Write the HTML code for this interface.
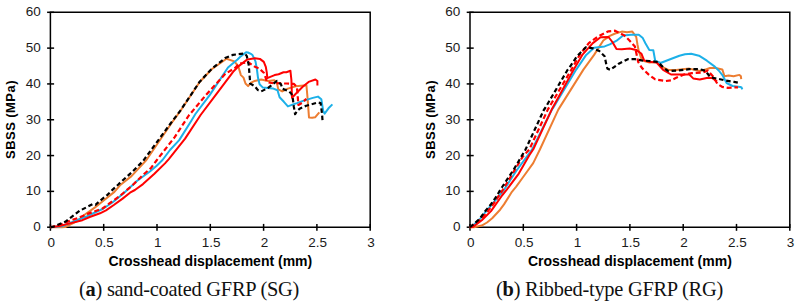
<!DOCTYPE html>
<html><head><meta charset="utf-8"><style>
html,body{margin:0;padding:0;background:#fff;}
svg{display:block}
.tk{font-family:"Liberation Sans",sans-serif;font-size:13.5px;fill:#1a1a1a}
.ax{font-family:"Liberation Sans",sans-serif;font-size:14px;font-weight:bold;fill:#000}
.ax2{font-family:"Liberation Sans",sans-serif;font-size:13px;font-weight:bold;fill:#000;letter-spacing:0.45px}
.cap{font-family:"Liberation Serif",serif;font-size:20.4px;fill:#111;letter-spacing:-0.25px}
</style></head><body>
<svg width="797" height="305" viewBox="0 0 797 305">
<path d="M50.40 12.30H370.20V227.20H50.40Z" fill="none" stroke="#000" stroke-width="1.5"/>
<path d="M47.10 227.20H54.10" stroke="#000" stroke-width="1.5"/>
<text x="40.80" y="231.20" text-anchor="end" class="tk">0</text>
<path d="M47.10 191.38H54.10" stroke="#000" stroke-width="1.5"/>
<text x="40.80" y="195.38" text-anchor="end" class="tk">10</text>
<path d="M47.10 155.57H54.10" stroke="#000" stroke-width="1.5"/>
<text x="40.80" y="159.57" text-anchor="end" class="tk">20</text>
<path d="M47.10 119.75H54.10" stroke="#000" stroke-width="1.5"/>
<text x="40.80" y="123.75" text-anchor="end" class="tk">30</text>
<path d="M47.10 83.93H54.10" stroke="#000" stroke-width="1.5"/>
<text x="40.80" y="87.93" text-anchor="end" class="tk">40</text>
<path d="M47.10 48.12H54.10" stroke="#000" stroke-width="1.5"/>
<text x="40.80" y="52.12" text-anchor="end" class="tk">50</text>
<path d="M47.10 12.30H54.10" stroke="#000" stroke-width="1.5"/>
<text x="40.80" y="16.30" text-anchor="end" class="tk">60</text>
<path d="M50.40 223.90V230.80" stroke="#000" stroke-width="1.5"/>
<text x="51.20" y="246.50" text-anchor="middle" class="tk">0</text>
<path d="M103.70 223.90V230.80" stroke="#000" stroke-width="1.5"/>
<text x="104.50" y="246.50" text-anchor="middle" class="tk">0.5</text>
<path d="M157.00 223.90V230.80" stroke="#000" stroke-width="1.5"/>
<text x="157.80" y="246.50" text-anchor="middle" class="tk">1</text>
<path d="M210.30 223.90V230.80" stroke="#000" stroke-width="1.5"/>
<text x="211.10" y="246.50" text-anchor="middle" class="tk">1.5</text>
<path d="M263.60 223.90V230.80" stroke="#000" stroke-width="1.5"/>
<text x="264.40" y="246.50" text-anchor="middle" class="tk">2</text>
<path d="M316.90 223.90V230.80" stroke="#000" stroke-width="1.5"/>
<text x="317.70" y="246.50" text-anchor="middle" class="tk">2.5</text>
<path d="M370.20 223.90V230.80" stroke="#000" stroke-width="1.5"/>
<text x="371.00" y="246.50" text-anchor="middle" class="tk">3</text>
<text x="210.30" y="266" text-anchor="middle" class="ax">Crosshead displacement (mm)</text>
<text transform="translate(14.90 119.5) rotate(-90)" text-anchor="middle" class="ax2">SBSS (MPa)</text>
<polyline points="50.4,227.2 62.0,227.3 65.2,227.1 76.7,221.4 84.9,214.5 94.7,207.6 104.6,199.7 114.4,191.9 120.0,185.3 131.5,176.1 146.4,160.0 172.8,121.3 180.0,111.5 199.7,82.0 212.0,69.0 226.5,58.8 234.3,61.4 238.2,66.0 240.9,75.1 243.5,77.6 245.5,83.5 248.1,86.1 250.7,82.9 254.7,80.9 261.2,79.6 267.8,80.9 274.3,80.2 276.9,82.9 278.3,89.4 282.2,91.4 287.9,88.6 295.7,86.2 306.4,85.2 307.3,95.0 309.0,117.5 312.2,117.8 315.1,117.3 319.3,112.3" fill="none" stroke="#ed7d31" stroke-width="2.0" stroke-linejoin="round"/><polyline points="50.4,227.2 62.0,226.3 75.0,221.0 85.9,216.8 92.8,213.5 102.6,209.0 112.4,202.5 123.4,193.5 137.2,180.7 149.9,171.5 156.7,165.7 162.5,160.0 170.0,150.0 179.2,140.1 191.5,120.5 195.4,114.0 209.5,95.4 228.0,67.5 237.5,59.5 240.0,57.0 246.1,52.2 247.9,52.5 251.4,54.2 252.5,55.1 255.5,61.4 257.0,70.0 258.0,77.8 259.6,84.3 262.9,87.6 272.7,88.4 277.5,90.3 279.6,97.3 283.9,101.8 287.9,106.4 293.1,104.4 297.0,103.1 302.3,101.1 312.8,97.9 318.0,96.6 321.3,99.2 323.2,111.0 324.6,113.6 328.5,108.3 332.4,104.4" fill="none" stroke="#1cb0e8" stroke-width="2.0" stroke-linejoin="round"/><polyline points="50.4,227.2 59.5,226.0 71.0,223.1 82.4,220.2 89.7,217.0 100.0,213.3 106.0,210.3 113.8,205.0 122.6,198.6 130.0,192.7 134.9,190.0 143.0,184.1 154.4,173.8 165.0,163.4 168.8,159.2 185.1,138.6 200.6,115.0 215.4,95.4 233.1,71.8 239.0,65.9 247.4,59.4 255.0,58.3 259.9,58.9 263.8,61.9 265.8,66.8 266.8,72.7 267.3,78.1 269.7,77.1 274.6,75.1 278.6,74.2 283.5,72.2 286.4,72.2 290.4,70.7 291.4,80.0 292.0,97.7 295.8,93.7 302.7,86.8 308.6,81.9 315.4,79.5 317.4,81.0 317.4,85.4" fill="none" stroke="#ff0000" stroke-width="2.0" stroke-linejoin="round"/><polyline points="50.4,227.2 60.0,225.0 71.0,220.3 77.9,218.0 85.9,214.5 92.8,212.0 102.6,208.5 107.9,204.5 119.7,196.1 129.5,187.8 133.8,184.0 143.0,174.9 151.0,168.0 156.5,160.5 174.7,137.1 188.8,115.5 205.6,95.4 225.3,73.8 235.1,67.9 239.6,63.3 243.9,63.0 247.4,61.5 249.2,63.0 255.0,66.8 258.9,68.3 263.8,72.7 265.8,78.1 267.0,82.0 271.7,83.0 282.5,83.5 286.4,83.5 293.8,83.9 296.8,86.8 297.3,90.8 298.4,105.0 301.9,102.9 306.3,98.9" fill="none" stroke="#ff0000" stroke-width="2.2" stroke-linejoin="round" stroke-dasharray="5 2.8"/><polyline points="50.4,227.2 53.7,226.6 65.2,221.8 72.0,216.6 79.8,210.7 87.7,206.7 92.6,204.1 95.6,204.8 100.0,200.8 107.5,194.8 112.4,189.9 118.3,184.5 121.1,181.8 131.5,172.6 143.0,161.1 172.0,121.5 180.0,111.2 199.7,81.7 212.0,68.6 225.1,58.1 233.0,54.8 244.8,53.5 246.8,56.1 248.7,64.7 250.0,80.4 250.1,83.5 254.7,86.1 257.9,90.1 261.2,91.4 267.8,88.1 277.0,80.9 280.9,84.2 282.5,88.8 288.9,91.3 291.4,93.7 292.8,98.6 293.8,106.5 295.1,114.2 297.0,111.0 299.6,108.7 306.2,105.7 318.0,102.5 320.6,103.1 322.0,113.6 322.6,121.5" fill="none" stroke="#000" stroke-width="2.2" stroke-linejoin="round" stroke-dasharray="4.5 2.8"/>
<path d="M470.00 12.30H789.80V227.20H470.00Z" fill="none" stroke="#000" stroke-width="1.5"/>
<path d="M466.70 227.20H473.70" stroke="#000" stroke-width="1.5"/>
<text x="460.40" y="231.20" text-anchor="end" class="tk">0</text>
<path d="M466.70 191.38H473.70" stroke="#000" stroke-width="1.5"/>
<text x="460.40" y="195.38" text-anchor="end" class="tk">10</text>
<path d="M466.70 155.57H473.70" stroke="#000" stroke-width="1.5"/>
<text x="460.40" y="159.57" text-anchor="end" class="tk">20</text>
<path d="M466.70 119.75H473.70" stroke="#000" stroke-width="1.5"/>
<text x="460.40" y="123.75" text-anchor="end" class="tk">30</text>
<path d="M466.70 83.93H473.70" stroke="#000" stroke-width="1.5"/>
<text x="460.40" y="87.93" text-anchor="end" class="tk">40</text>
<path d="M466.70 48.12H473.70" stroke="#000" stroke-width="1.5"/>
<text x="460.40" y="52.12" text-anchor="end" class="tk">50</text>
<path d="M466.70 12.30H473.70" stroke="#000" stroke-width="1.5"/>
<text x="460.40" y="16.30" text-anchor="end" class="tk">60</text>
<path d="M470.00 223.90V230.80" stroke="#000" stroke-width="1.5"/>
<text x="470.80" y="246.50" text-anchor="middle" class="tk">0</text>
<path d="M523.30 223.90V230.80" stroke="#000" stroke-width="1.5"/>
<text x="524.10" y="246.50" text-anchor="middle" class="tk">0.5</text>
<path d="M576.60 223.90V230.80" stroke="#000" stroke-width="1.5"/>
<text x="577.40" y="246.50" text-anchor="middle" class="tk">1</text>
<path d="M629.90 223.90V230.80" stroke="#000" stroke-width="1.5"/>
<text x="630.70" y="246.50" text-anchor="middle" class="tk">1.5</text>
<path d="M683.20 223.90V230.80" stroke="#000" stroke-width="1.5"/>
<text x="684.00" y="246.50" text-anchor="middle" class="tk">2</text>
<path d="M736.50 223.90V230.80" stroke="#000" stroke-width="1.5"/>
<text x="737.30" y="246.50" text-anchor="middle" class="tk">2.5</text>
<path d="M789.80 223.90V230.80" stroke="#000" stroke-width="1.5"/>
<text x="790.60" y="246.50" text-anchor="middle" class="tk">3</text>
<text x="629.90" y="266" text-anchor="middle" class="ax">Crosshead displacement (mm)</text>
<text transform="translate(434.50 119.5) rotate(-90)" text-anchor="middle" class="ax2">SBSS (MPa)</text>
<polyline points="469.8,227.2 474.0,227.3 481.7,225.6 487.0,222.5 492.2,218.2 500.1,209.7 504.0,204.4 511.9,191.8 516.2,186.7 522.8,177.5 533.2,163.1 539.9,149.5 558.3,109.6 583.4,69.6 594.1,54.9 603.3,40.5 609.8,35.9 615.2,33.5 621.8,31.6 627.0,32.2 632.3,31.6 636.2,36.8 637.5,44.7 638.8,51.2 641.5,59.1 644.1,61.0 649.5,62.5 657.9,62.0 663.1,67.3 668.3,69.9 676.2,69.9 689.3,68.6 699.8,71.0 706.4,69.2 710.0,68.0 715.7,68.1 722.3,69.4 724.5,76.3 728.6,75.6 733.6,76.3 739.4,74.9 740.9,76.3 741.2,79.2" fill="none" stroke="#ed7d31" stroke-width="2.0" stroke-linejoin="round"/><polyline points="469.8,227.2 473.0,225.5 479.5,219.5 485.5,212.0 491.5,205.0 498.5,196.5 504.4,189.3 516.2,171.0 532.0,149.6 551.7,110.0 553.1,108.0 576.2,69.6 586.2,54.9 594.1,47.7 604.6,46.4 609.8,44.4 616.6,40.7 623.1,35.5 631.0,34.8 638.8,34.8 642.8,38.1 645.4,43.3 649.3,49.9 653.3,50.2 655.2,60.7 660.5,63.0 671.5,58.7 679.4,55.7 685.0,54.3 691.2,53.8 699.0,55.7 706.9,60.7 714.8,66.6 718.7,70.5 722.6,75.4 726.6,83.0 732.5,86.0 740.3,87.0 741.6,87.5 742.3,89.3" fill="none" stroke="#1cb0e8" stroke-width="2.0" stroke-linejoin="round"/><polyline points="469.8,227.2 472.6,227.1 481.8,220.3 491.0,211.1 502.4,195.0 506.8,189.6 518.8,173.6 529.3,155.2 533.3,149.3 551.7,109.6 573.6,69.8 582.3,54.9 592.8,43.1 600.6,37.2 608.5,37.0 612.4,42.0 616.5,49.0 621.8,49.2 629.7,48.6 636.2,49.9 641.5,53.8 644.1,60.4 649.3,61.7 656.6,62.5 663.1,69.9 671.0,74.5 689.3,74.5 693.2,78.4 699.8,79.5 707.9,77.8 712.0,78.0 717.0,81.4" fill="none" stroke="#ff0000" stroke-width="2.0" stroke-linejoin="round"/><polyline points="469.8,227.2 475.0,224.0 481.0,219.5 488.0,211.0 494.0,203.0 503.0,189.5 522.8,156.6 529.4,149.3 547.8,109.6 571.0,70.3 579.7,54.9 588.8,43.1 598.0,36.6 608.5,31.3 615.0,30.7 617.9,32.2 624.4,35.5 629.7,40.7 634.9,46.6 636.2,52.5 638.2,62.0 641.9,67.9 648.5,74.4 655.0,79.2 657.9,79.9 665.7,81.0 671.0,80.4 676.2,77.8 684.1,74.5 692.0,73.2 702.4,72.5 707.9,70.7 713.1,76.6 717.5,84.0 722.1,86.8 727.9,87.9 733.6,87.5 738.0,87.3" fill="none" stroke="#ff0000" stroke-width="2.2" stroke-linejoin="round" stroke-dasharray="5 2.8"/><polyline points="469.8,227.2 471.4,226.0 479.5,219.1 485.2,211.1 491.0,204.2 496.7,196.1 500.5,189.5 513.6,169.7 525.4,149.8 543.8,110.0 545.2,108.0 567.5,70.0 569.2,68.0 577.0,56.2 586.2,47.0 592.8,48.3 599.3,51.0 604.6,56.2 606.5,65.4 607.5,68.8 610.5,69.8 618.3,63.9 626.2,60.0 628.3,59.1 634.9,59.1 641.5,60.4 649.3,61.0 657.9,62.0 663.1,67.3 668.3,71.2 676.2,70.6 689.3,69.2 699.8,69.2 705.2,70.7 710.5,77.3 717.0,78.6 726.2,80.6 734.1,81.9 740.3,83.2" fill="none" stroke="#000" stroke-width="2.2" stroke-linejoin="round" stroke-dasharray="4.5 2.8"/>
<text x="79" y="295.5" class="cap">(<tspan font-weight="bold">a</tspan>) sand-coated GFRP (SG)</text>
<text x="496" y="295.5" class="cap">(<tspan font-weight="bold">b</tspan>) Ribbed-type GFRP (RG)</text>
</svg>
</body></html>
